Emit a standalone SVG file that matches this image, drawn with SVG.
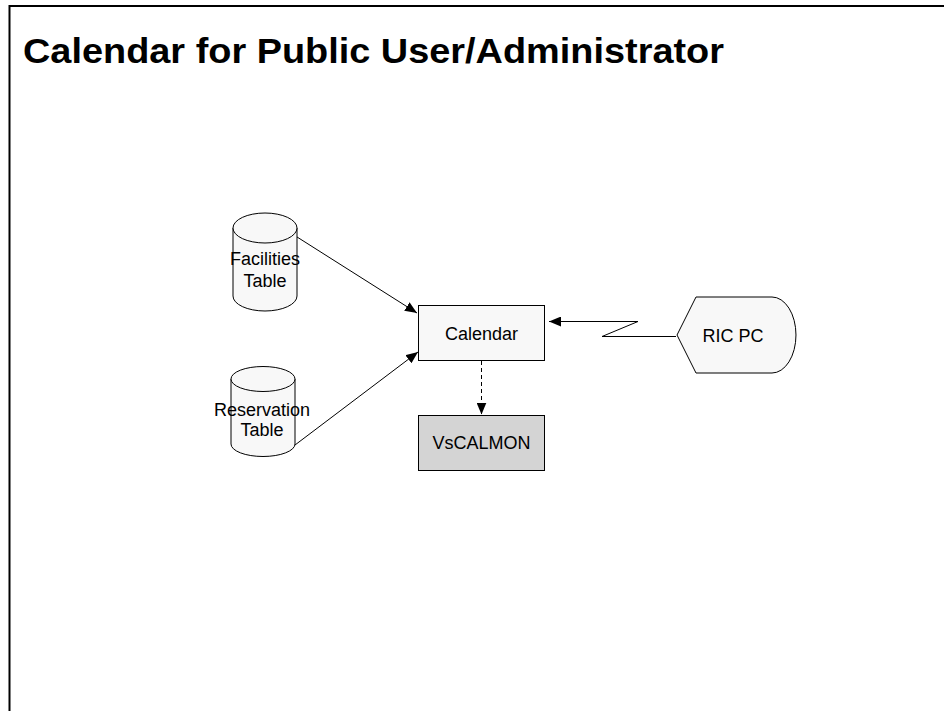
<svg xmlns="http://www.w3.org/2000/svg" width="944" height="711" viewBox="0 0 944 711">
  <style>
    .lbl { font-family: "Liberation Sans", Arial, sans-serif; font-size: 18px; fill: #000; text-anchor: middle; }
    .title { font-family: "Liberation Sans", Arial, sans-serif; font-size: 35px; font-weight: bold; fill: #000; }
    .shape { fill: #f8f8f8; stroke: #000; stroke-width: 1; }
    .conn { fill: none; stroke: #000; stroke-width: 1; }
  </style>
  <defs>
    <marker id="arrow" markerUnits="userSpaceOnUse" markerWidth="12" markerHeight="10" refX="12" refY="5" orient="auto">
      <path d="M0,0 L12,5 L0,10 Z" fill="#000"/>
    </marker>
  </defs>
  <rect width="944" height="711" fill="#fff"/>
  <g id="frame">
    <path d="M9.5,711 L9.5,6 L944,6" fill="none" stroke="#000" stroke-width="2"/>
  </g>
  <text class="title" x="23" y="63" textLength="701" lengthAdjust="spacingAndGlyphs">Calendar for Public User/Administrator</text>

  <g id="connectors">
    <line class="conn" x1="295" y1="235.7" x2="417" y2="313" marker-end="url(#arrow)"/>
    <line class="conn" x1="295" y1="445" x2="418" y2="352" marker-end="url(#arrow)"/>
    <line class="conn" x1="481.5" y1="361" x2="481.5" y2="414.5" stroke-dasharray="4,3" marker-end="url(#arrow)"/>
    <path class="conn" d="M676,336.5 L602,336.5 L638,321.5 L549,321.5" marker-end="url(#arrow)"/>
  </g>

  <g id="facilities-table">
    <path class="shape" d="M233,228 L233,296 A32,15 0 0 0 297,296 L297,228"/>
    <ellipse class="shape" cx="265" cy="228" rx="32" ry="15"/>
    <text class="lbl" x="265" y="265">Facilities</text>
    <text class="lbl" x="265" y="287">Table</text>
  </g>

  <g id="reservation-table">
    <path class="shape" d="M231,379 L231,444 A32,12.5 0 0 0 295,444 L295,379"/>
    <ellipse class="shape" cx="263" cy="379" rx="32" ry="12.5"/>
    <text class="lbl" x="262" y="416">Reservation</text>
    <text class="lbl" x="262" y="436">Table</text>
  </g>

  <g id="calendar">
    <rect class="shape" x="418.5" y="305.5" width="126" height="55"/>
    <text class="lbl" x="481.5" y="340">Calendar</text>
  </g>

  <g id="vscalmon">
    <rect x="418.5" y="415.5" width="126" height="55" fill="#d4d4d4" stroke="#000" stroke-width="1"/>
    <text class="lbl" x="481.5" y="449">VsCALMON</text>
  </g>

  <g id="ric-pc">
    <path class="shape" d="M677,335 L696,297 L772,297 A24,38 0 0 1 772,373 L696,373 Z"/>
    <text class="lbl" x="733" y="342">RIC PC</text>
  </g>
</svg>
